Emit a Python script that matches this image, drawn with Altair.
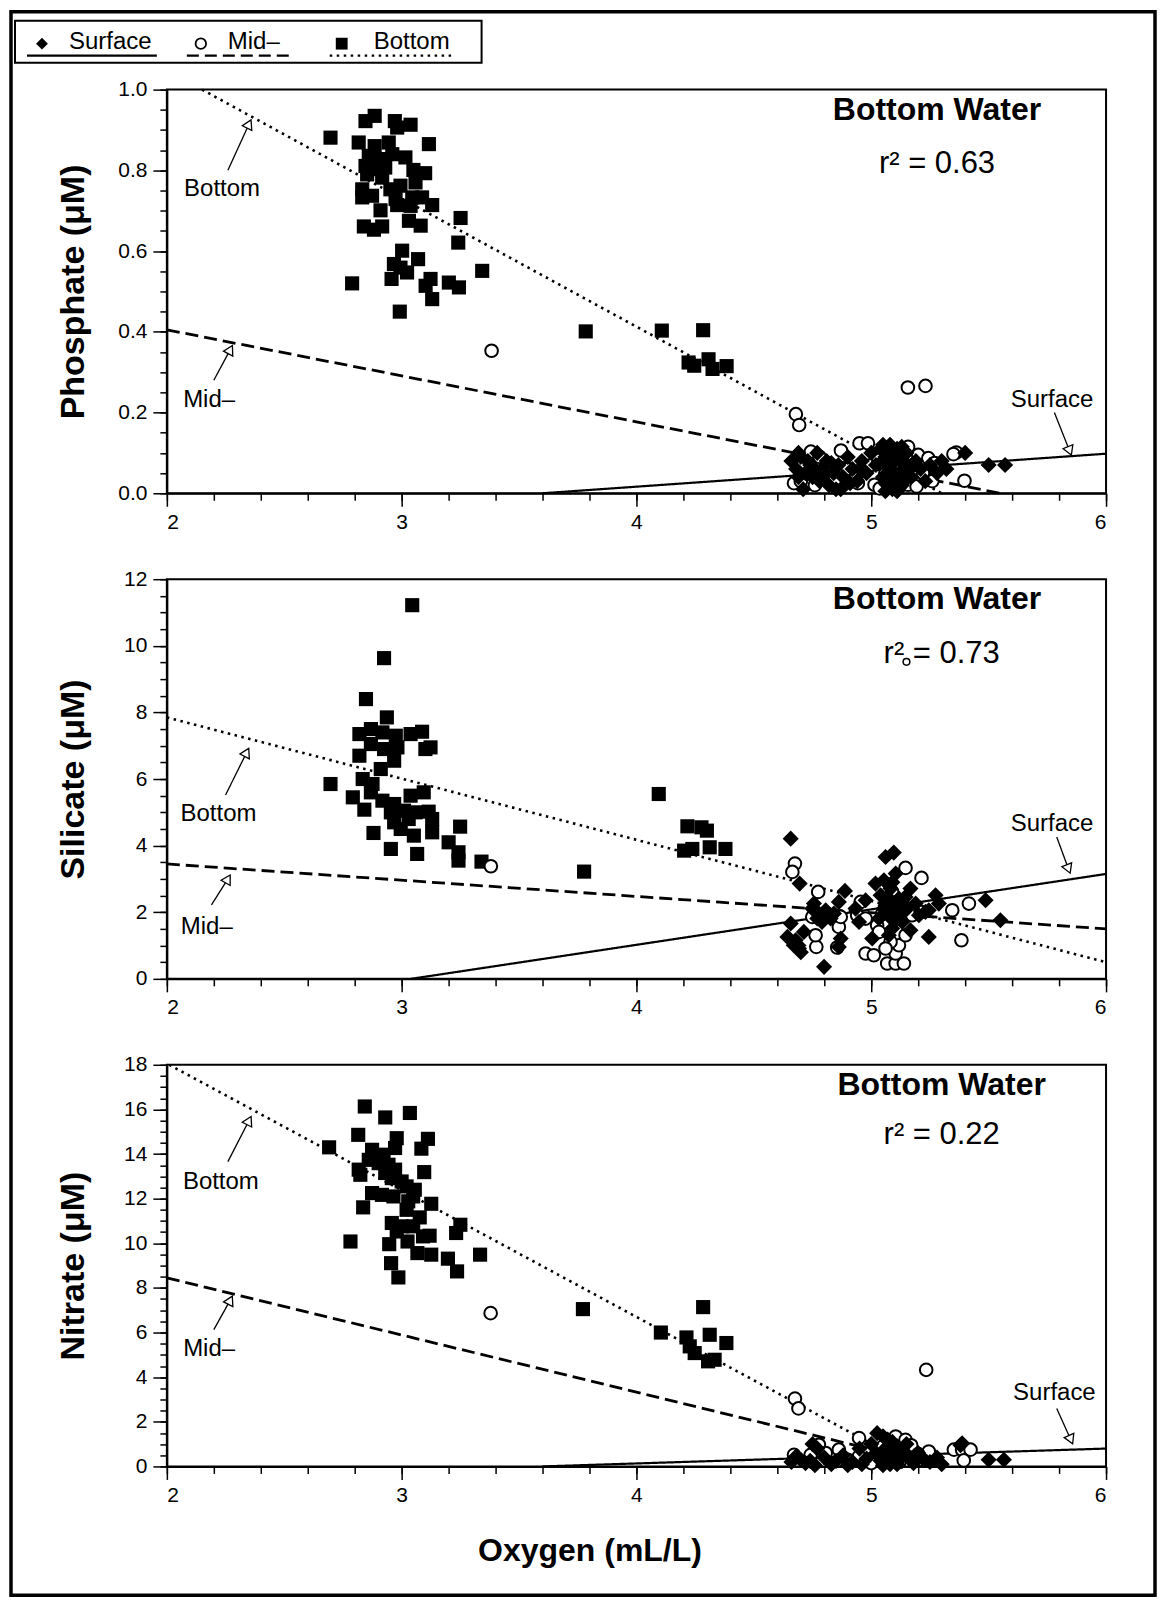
import altair as alt
import pandas as pd

FONT = "Liberation Sans"

# ---------------- axes ----------------
X_DOMAIN = [2, 6]
X_MAJOR = [2, 3, 4, 5, 6]
X_MINOR = [round(2 + 0.2 * i, 1) for i in range(21)]

PHOS_DOMAIN = [0, 1.0]
PHOS_MAJOR = [0, 0.2, 0.4, 0.6, 0.8, 1.0]
PHOS_MINOR = [round(0.05 * i, 2) for i in range(21)]
SIL_DOMAIN = [0, 12]
SIL_MAJOR = [0, 2, 4, 6, 8, 10, 12]
SIL_MINOR = [0.5 * i for i in range(25)]
NIT_DOMAIN = [0, 18]
NIT_MAJOR = [0, 2, 4, 6, 8, 10, 12, 14, 16, 18]
NIT_MINOR = [0.5 * i for i in range(37)]

# ---------------- data: (oxygen, nutrient) ----------------
phos_bottom = [(2.697,0.881),(2.846,0.922),(2.885,0.935),(2.971,0.922),(2.981,0.906),(3.038,0.913),
    (2.817,0.869),(2.885,0.860),(2.945,0.869),(3.116,0.865),(2.86,0.836),(2.903,0.828),(2.96,0.84),
    (3.016,0.832),(2.846,0.811),(2.888,0.803),(2.93,0.807),(3.05,0.801),(3.1,0.793),(2.853,0.79),
    (2.917,0.782),(2.832,0.753),(2.874,0.737),(2.952,0.753),(2.995,0.762),(3.059,0.77),(2.832,0.733),
    (2.974,0.729),(3.045,0.733),(3.087,0.733),(3.13,0.714),(2.91,0.701),(2.981,0.714),(3.038,0.712),
    (3.251,0.682),(2.839,0.661),(2.882,0.653),(2.917,0.661),(3.031,0.675),(3.081,0.663),(3.241,0.621),
    (3.002,0.601),(2.967,0.568),(2.995,0.559),(3.07,0.58),(3.023,0.547),(3.343,0.551),(2.789,0.52),
    (2.957,0.531),(3.123,0.531),(3.102,0.514),(3.201,0.522),(3.244,0.51),(3.13,0.481),(2.992,0.45),
    (3.784,0.401),(4.108,0.403),(4.284,0.404),(4.222,0.324),(4.246,0.316),(4.307,0.332),(4.324,0.308),
    (4.384,0.315)]
phos_mid = [(3.383,0.353),(4.679,0.196),(4.693,0.169),(5.156,0.262),(5.231,0.266),(5.397,0.031),
    (5.362,0.101),(4.871,0.106),(4.95,0.124),(4.986,0.124),(4.743,0.103),(4.78,0.09),(5.157,0.115),
    (5.2,0.095),(5.243,0.087),(5.35,0.097),(4.671,0.025),(4.943,0.025),(5.014,0.021),(5.036,0.012),
    (5.157,0.021),(5.193,0.017),(5.0,0.07),(5.03,0.083),(4.70,0.03),(4.90,0.06),(5.06,0.05),(5.10,0.10),
    (5.13,0.04),(5.18,0.07),(5.22,0.05),(5.27,0.075),(4.82,0.07),(5.08,0.015),(5.12,0.06),(4.76,0.02),
    (5.26,0.03)]
phos_surface = [(4.66,0.08),(4.68,0.06),(4.70,0.09),(4.71,0.01),(4.72,0.05),(4.74,0.07),(4.75,0.04),
    (4.77,0.10),(4.78,0.03),(4.79,0.06),(4.81,0.08),(4.82,0.02),(4.84,0.05),(4.85,0.01),(4.86,0.07),
    (4.87,0.01),(4.88,0.04),(4.90,0.09),(4.92,0.06),(4.94,0.03),(4.96,0.08),(4.98,0.05),(5.00,0.10),
    (5.02,0.07),(5.04,0.11),(5.05,0.04),(5.06,0.09),(5.07,0.02),(5.08,0.12),(5.08,0.06),(5.09,0.01),
    (5.10,0.08),(5.10,0.03),(5.11,0.11),(5.12,0.05),(5.12,0.09),(5.13,0.02),(5.14,0.07),(5.15,0.10),
    (5.17,0.04),(5.19,0.08),(5.21,0.06),(5.23,0.03),(5.25,0.07),(5.28,0.05),(5.30,0.08),(5.32,0.06),
    (5.40,0.10),(5.50,0.07),(5.57,0.07),(5.06,0.005),(5.11,0.005),(5.09,0.04),(5.13,0.115),(5.07,0.09),
    (5.05,0.12),(5.07,0.065),(5.09,0.10),(5.11,0.045),(5.13,0.085),(5.14,0.03),(5.09,0.075),
    (5.06,0.025),(5.12,0.015),(5.08,0.035),(4.69,0.04),(4.73,0.08),(4.76,0.06),(4.80,0.045),
    (4.83,0.075),(4.91,0.025),(4.96,0.055),(4.69,0.10),(5.16,0.06),(5.04,0.075)]

sil_bottom = [(3.045,11.22),(2.925,9.63),(2.848,8.4),(2.937,7.85),(2.82,7.35),(2.869,7.5),(2.918,7.4),
    (2.975,7.3),(3.038,7.35),(3.087,7.42),(2.82,6.7),(2.869,7.05),(2.925,6.9),(2.982,6.95),(3.101,6.9),
    (3.123,6.95),(2.968,6.55),(2.911,6.3),(2.697,5.85),(2.834,6.0),(2.876,5.85),(2.869,5.6),(2.792,5.45),
    (3.094,5.6),(3.038,5.5),(2.918,5.35),(2.968,5.25),(2.841,5.08),(2.954,5.0),(3.01,5.05),(3.059,5.0),
    (3.115,5.02),(3.13,4.8),(2.968,4.7),(2.996,4.5),(3.249,4.57),(2.88,4.38),(3.052,4.3),(3.13,4.4),
    (3.2,4.1),(2.954,3.9),(3.066,3.75),(3.242,3.8),(3.242,3.55),(3.34,3.52),(3.777,3.22),(3.03,4.8),
    (4.095,5.55),(4.217,4.58),(4.277,4.55),(4.3,4.45),(4.203,3.85),(4.238,3.9),(4.312,3.95),(4.379,3.9)]
sil_mid = [(3.38,3.38),(4.675,3.46),(4.664,3.21),(4.774,2.61),(5.146,3.33),(5.214,3.03),(5.416,2.26),
    (5.345,2.06),(5.384,1.16),(4.862,1.56),(4.766,0.96),(4.855,0.94),(4.976,0.76),(5.011,0.71),
    (5.068,0.46),(5.104,0.46),(5.139,0.46),(5.104,0.76),(5.118,1.01),(5.146,1.31),(5.082,1.11),
    (5.025,1.61),(4.955,2.31),(4.94,1.91),(4.976,1.81),(5.132,2.31),(5.174,1.91),(5.21,2.01),
    (4.763,1.31),(4.749,1.86),(4.87,1.86),(5.047,1.96),(5.089,2.61),(5.033,1.41),(5.061,0.91),
    (5.096,2.11)]
sil_mid_stray = [(5.15, 9.52)]
sil_surface = [(4.657,4.21),(5.061,3.66),(5.096,3.79),(5.104,3.16),(4.695,2.86),(4.888,2.64),
    (4.862,2.31),(4.756,2.26),(5.274,2.51),(5.288,2.26),(5.487,2.36),(5.55,1.76),(5.245,1.26),
    (4.799,0.36),(4.657,1.66),(4.643,1.26),(4.678,1.16),(4.692,0.91),(4.67,1.01),(4.713,1.41),
    (4.87,1.21),(4.862,0.96),(4.749,2.11),(4.77,2.01),(4.791,1.91),(4.806,2.06),(4.827,1.81),
    (4.841,1.96),(4.79,1.71),(4.77,1.81),(5.018,2.86),(5.04,2.51),(5.061,2.21),(5.082,2.71),
    (5.104,2.01),(5.118,2.41),(5.132,1.71),(5.153,2.11),(5.167,2.71),(5.033,1.81),(5.089,1.51),
    (5.075,1.31),(5.004,1.21),(4.948,1.71),(4.933,2.11),(4.976,2.36),(5.189,2.26),(5.203,1.91),
    (5.231,2.01),(5.054,2.96),(5.146,2.46),(5.11,1.81),(5.054,2.11),(5.167,1.46),(5.245,2.06),
    (4.70,0.8),(4.69,1.0),(5.07,2.45),(5.10,2.25),(5.12,1.95),(5.08,1.85),(5.14,2.2),(5.09,2.9)]

nit_bottom = [(2.691,14.3),(2.843,16.13),(2.93,15.64),(3.035,15.84),(2.815,14.86),(2.979,14.71),
    (3.112,14.68),(3.084,14.24),(2.972,14.27),(2.874,14.19),(2.923,13.97),(2.86,13.74),(2.902,13.59),
    (2.817,13.3),(2.944,13.52),(2.824,13.07),(2.93,13.15),(2.972,13.3),(3.096,13.19),(2.958,12.92),
    (3.0,12.77),(3.021,12.55),(3.056,12.4),(2.874,12.25),(2.916,12.17),(2.965,12.1),(3.049,12.1),
    (3.028,11.88),(3.126,11.77),(2.836,11.61),(3.021,11.5),(3.077,11.16),(2.958,10.91),(3.0,10.76),
    (3.049,10.76),(3.25,10.83),(2.979,10.53),(3.232,10.46),(3.091,10.31),(3.119,10.34),(2.782,10.08),
    (3.025,10.08),(2.947,9.96),(3.067,9.56),(3.126,9.49),(3.334,9.49),(3.197,9.31),(2.955,9.11),
    (3.236,8.74),(2.986,8.47),(3.772,7.05),(4.104,6.0),(4.284,7.14),(4.213,5.78),(4.312,5.9),
    (4.383,5.53),(4.227,5.38),(4.248,5.08),(4.305,4.71),(4.333,4.78)]
nit_mid = [(3.379,6.87),(4.675,3.04),(4.69,2.6),(5.234,4.33),(4.948,1.27),(5.104,1.34),(5.146,1.19),
    (4.862,0.75),(4.742,0.52),(4.671,0.52),(5.245,0.67),(5.352,0.75),(5.387,0.75),(5.423,0.75),
    (5.394,0.27),(4.777,0.97),(4.99,0.6),(5.139,0.75),(5.217,0.3),(4.948,0.45),(4.806,0.6),(5.05,0.9),
    (5.08,0.4),(5.17,0.95),(5.12,0.2),(5.0,0.15),(4.9,0.3),(5.2,0.55)]
nit_surface = [(5.387,1.04),(5.5,0.3),(5.565,0.3),(5.025,1.49),(5.05,1.35),(5.07,1.2),(4.75,1.0),
    (4.77,0.8),(4.70,0.3),(4.72,0.15),(4.80,0.4),(4.85,0.25),(4.88,0.5),(4.92,0.2),(4.95,0.8),
    (4.98,0.35),(5.0,1.0),(5.02,0.6),(5.04,0.25),(5.06,0.8),(5.08,0.1),(5.09,1.1),(5.10,0.5),
    (5.11,0.9),(5.12,0.3),(5.13,0.7),(5.15,1.0),(5.16,0.45),(5.18,0.15),(5.2,0.6),(5.22,0.35),
    (5.25,0.2),(5.28,0.4),(5.3,0.1),(4.66,0.2),(4.76,0.05),(4.9,0.05),(5.05,0.05),(4.68,0.45),
    (5.38,0.95),(5.07,0.6),(5.09,0.3),(5.11,0.1),(5.14,0.55),(4.83,0.1),(4.96,0.1),(4.74,0.25)]

# regression lines (endpoints)
phos_fit = {"Surface": [(3.6, 0.0), (6.0, 0.098)], "Mid": [(2.0, 0.405), (5.55, 0.0)],
            "Bottom": [(2.15, 1.0), (5.3, 0.0)]}
sil_fit = {"Surface": [(3.04, 0.0), (6.0, 3.15)], "Mid": [(2.0, 3.45), (6.0, 1.5)],
           "Bottom": [(2.0, 7.85), (6.0, 0.5)]}
nit_fit = {"Surface": [(3.6, 0.0), (6.0, 0.8)], "Mid": [(2.0, 8.45), (5.3, 0.0)],
           "Bottom": [(2.01, 18.0), (5.18, 0.0)]}

# annotations: label text/position, arrow tail, arrow head, head angle
phos_notes = [("Bottom", 2.235, 0.753, 2.26, 0.80, 2.35, 0.915, 26),
              ("Mid\u2013", 2.18, 0.23, 2.20, 0.28, 2.27, 0.356, 28),
              ("Surface", 5.77, 0.23, 5.78, 0.20, 5.845, 0.105, 158)]
sil_notes = [("Bottom", 2.22, 4.95, 2.25, 5.52, 2.34, 6.8, 27),
             ("Mid\u2013", 2.17, 1.56, 2.19, 2.22, 2.26, 3.0, 30),
             ("Surface", 5.77, 4.65, 5.79, 4.26, 5.84, 3.3, 158)]
nit_notes = [("Bottom", 2.23, 12.76, 2.26, 13.66, 2.35, 15.5, 27),
             ("Mid\u2013", 2.18, 5.24, 2.20, 6.13, 2.27, 7.45, 27),
             ("Surface", 5.78, 3.27, 5.79, 2.6, 5.85, 1.2, 156)]

phos_heading = ("Bottom Water", 5.28, 0.95, "r\u00b2 = 0.63", 5.28, 0.815)
sil_heading = ("Bottom Water", 5.28, 11.4, "r\u00b2 = 0.73", 5.30, 9.76)
nit_heading = ("Bottom Water", 5.30, 17.1, "r\u00b2 = 0.22", 5.30, 14.87)

W = 940
GAP = 86


def df(pts):
    return pd.DataFrame(pts, columns=["x", "y"])


def panel(height, ydom, ymajor, yminor, yfmt, ytitle, bottom, mid, surface, fits,
          notes, heading, xtitle=None, stray=None, legend=False):
    xs = alt.Scale(domain=X_DOMAIN, nice=False, zero=False)
    ys = alt.Scale(domain=ydom, nice=False, zero=False)

    def X(axis=None, f="x"):
        return alt.X(f"{f}:Q", scale=xs, axis=axis)

    def Y(axis=None, f="y"):
        return alt.Y(f"{f}:Q", scale=ys, axis=axis)

    base = df(bottom + mid + surface)
    minor_layer = alt.Chart(base).mark_point(opacity=0).encode(
        x=X(alt.Axis(orient="bottom", values=X_MINOR, labels=False, domain=False, tickSize=7,
                     tickWidth=1.5, title=None, grid=False)),
        y=Y(alt.Axis(orient="left", values=yminor, labels=False, domain=False, tickSize=7,
                     tickWidth=1.5, title=None, grid=False)))
    xaxis_kw = dict(orient="bottom", values=X_MAJOR, format="d", tickSize=13, tickWidth=1.5,
                    labelPadding=5, domainWidth=2, grid=False)
    if xtitle:
        xaxis_kw.update(title=xtitle, titleFontSize=32, titleFontWeight="bold", titleX=423,
                        titleY=84, titleAlign="center", titleBaseline="middle")
    else:
        xaxis_kw.update(title=None)
    major_layer = alt.Chart(base).mark_point(opacity=0).encode(
        x=X(alt.Axis(**xaxis_kw)),
        y=Y(alt.Axis(orient="left", values=ymajor, format=yfmt, tickSize=14, tickWidth=1.5,
                     labelPadding=6, domainWidth=2, grid=False, title=ytitle,
                     titleFontSize=34, titleFontWeight="bold", titleX=-93, titleY=height / 2,
                     titleAngle=270, titleAlign="center", titleBaseline="middle")))

    layers = [minor_layer, major_layer]

    styles = {"Surface": ([1, 0], 2.2), "Mid": ([13, 6], 2.8), "Bottom": ([2.5, 4.5], 2.6)}
    for name, pts in fits.items():
        dash, sw = styles[name]
        layers.append(alt.Chart(df(pts)).mark_line(color="black", strokeWidth=sw,
                                                   strokeDash=dash).encode(x=X(), y=Y()))

    layers.append(alt.Chart(df(bottom)).mark_point(shape="square", filled=True, color="black",
                                                   size=200, opacity=1).encode(x=X(), y=Y()))
    layers.append(alt.Chart(df(mid)).mark_point(shape="circle", filled=True, fill="white",
                                                stroke="black", strokeWidth=2, size=160,
                                                opacity=1).encode(x=X(), y=Y()))
    layers.append(alt.Chart(df(surface)).mark_point(shape="diamond", filled=True, color="black",
                                                    size=260, opacity=1).encode(x=X(), y=Y()))
    if stray:
        layers.append(alt.Chart(df(stray)).mark_point(shape="circle", filled=False,
                                                      color="black", strokeWidth=1.5, size=45,
                                                      opacity=1).encode(x=X(), y=Y()))

    ndf = pd.DataFrame(notes, columns=["label", "lx", "ly", "tx", "ty", "hx", "hy", "ang"])
    layers.append(alt.Chart(ndf).mark_text(font=FONT, fontSize=24, color="black",
                                           align="center", baseline="middle").encode(
        x=X(f="lx"), y=Y(f="ly"), text="label:N"))
    layers.append(alt.Chart(ndf).mark_rule(color="black", strokeWidth=1.3).encode(
        x=X(f="tx"), y=Y(f="ty"), x2="hx:Q", y2="hy:Q"))
    layers.append(alt.Chart(ndf).mark_point(shape="triangle-up", filled=True, fill="white",
                                            stroke="black", strokeWidth=1.3, size=110,
                                            opacity=1).encode(
        x=X(f="hx"), y=Y(f="hy"), angle=alt.Angle("ang:Q", scale=None)))

    hdf = pd.DataFrame([heading], columns=["t1", "x1", "y1", "t2", "x2", "y2"])
    layers.append(alt.Chart(hdf).mark_text(font=FONT, fontSize=32, fontWeight="bold",
                                           color="black", align="center",
                                           baseline="middle").encode(
        x=X(f="x1"), y=Y(f="y1"), text="t1:N"))
    layers.append(alt.Chart(hdf).mark_text(font=FONT, fontSize=31, color="black",
                                           align="center", baseline="middle").encode(
        x=X(f="x2"), y=Y(f="y2"), text="t2:N"))

    if legend:
        one = pd.DataFrame({"a": [0]})
        total_h = 404 + 400 + 402 + 2 * GAP
        layers.append(alt.Chart(one).mark_rect(fillOpacity=0, stroke="black",
                                               strokeWidth=3.5).encode(
            x=alt.value(-156), x2=alt.value(989), y=alt.value(-78), y2=alt.value(total_h + 129)))
        layers.append(alt.Chart(one).mark_rect(fill="white", stroke="black",
                                               strokeWidth=2).encode(
            x=alt.value(-152), x2=alt.value(315), y=alt.value(-69), y2=alt.value(-27)))
        items = [("diamond", True, -125, "Surface", -98, [1, 0], -140, -10),
                 ("circle", False, 34, "Mid\u2013", 61, [12, 6], 20, 122),
                 ("square", True, 175, "Bottom", 207, [2.5, 4.5], 163, 287)]
        for shape, filled, sx, label, tx, dash, u1, u2 in items:
            if filled:
                sym = alt.Chart(one).mark_point(shape=shape, filled=True, color="black",
                                                size=140, opacity=1)
            else:
                sym = alt.Chart(one).mark_point(shape=shape, filled=True, fill="white",
                                                stroke="black", strokeWidth=1.8, size=110,
                                                opacity=1)
            layers.append(sym.encode(x=alt.value(sx), y=alt.value(-46)))
            layers.append(alt.Chart(one).mark_text(text=label, font=FONT, fontSize=24,
                                                   color="black", align="left",
                                                   baseline="middle").encode(
                x=alt.value(tx), y=alt.value(-48)))
            layers.append(alt.Chart(one).mark_rule(color="black", strokeWidth=2.2,
                                                   strokeDash=dash).encode(
                x=alt.value(u1), x2=alt.value(u2), y=alt.value(-34)))

    return alt.layer(*layers).resolve_axis(x="independent", y="independent").properties(
        width=W, height=height)


top = panel(404, PHOS_DOMAIN, PHOS_MAJOR, PHOS_MINOR, ".1f", "Phosphate (\u03bcM)",
            phos_bottom, phos_mid, phos_surface, phos_fit, phos_notes, phos_heading, legend=True)
middle = panel(400, SIL_DOMAIN, SIL_MAJOR, SIL_MINOR, "d", "Silicate (\u03bcM)",
               sil_bottom, sil_mid, sil_surface, sil_fit, sil_notes, sil_heading,
               stray=sil_mid_stray)
bottom_panel = panel(402, NIT_DOMAIN, NIT_MAJOR, NIT_MINOR, "d", "Nitrate (\u03bcM)",
                     nit_bottom, nit_mid, nit_surface, nit_fit, nit_notes, nit_heading,
                     xtitle="Oxygen (mL/L)")

chart = alt.vconcat(top, middle, bottom_panel, spacing=GAP, bounds="flush").properties(
    padding=0, background="white"
).configure_view(stroke="black", strokeWidth=2).configure_axis(
    labelFont=FONT, labelFontSize=21, labelColor="black", tickColor="black",
    domainColor="black", titleFont=FONT, titleColor="black", grid=False
)

chart.save("out.html", embed_options={"renderer": "svg", "actions": False})
